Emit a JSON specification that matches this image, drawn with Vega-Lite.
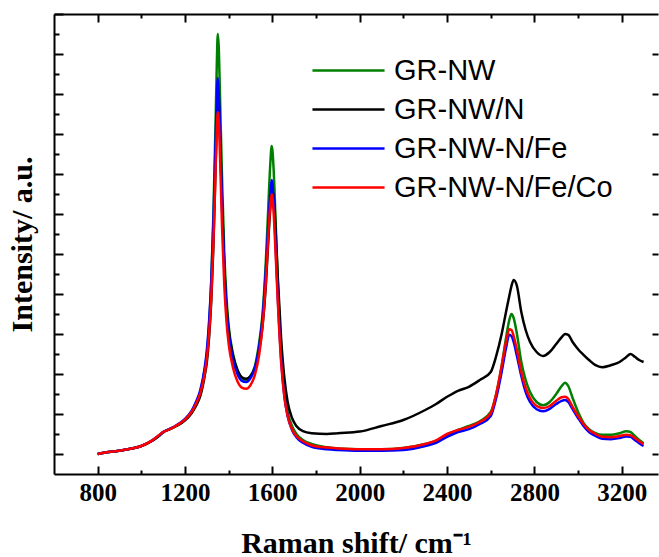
{
  "$schema": "https://vega.github.io/schema/vega-lite/v6.json",
  "width": 604,
  "height": 460,
  "autosize": {"type": "none"},
  "padding": {"left": 54, "top": 14, "right": 1, "bottom": 83},
  "background": "white",
  "config": {
    "view": {"stroke": null},
    "axis": {"grid": false, "domainColor": "black", "tickColor": "black", "domainWidth": 2, "tickWidth": 2, "labelColor": "black", "titleColor": "black"}
  },
  "data": {"values": [
    {"x":800,"GR-NW":0,"GR-NW/N":0,"GR-NW-N/Fe":0,"GR-NW-N/Fe/Co":0},
    {"x":850,"GR-NW":0.05,"GR-NW/N":0.05,"GR-NW-N/Fe":0.05,"GR-NW-N/Fe/Co":0.05},
    {"x":900,"GR-NW":0.08,"GR-NW/N":0.08,"GR-NW-N/Fe":0.08,"GR-NW-N/Fe/Co":0.08},
    {"x":950,"GR-NW":0.13,"GR-NW/N":0.13,"GR-NW-N/Fe":0.13,"GR-NW-N/Fe/Co":0.13},
    {"x":1000,"GR-NW":0.2,"GR-NW/N":0.2,"GR-NW-N/Fe":0.2,"GR-NW-N/Fe/Co":0.2},
    {"x":1050,"GR-NW":0.33,"GR-NW/N":0.33,"GR-NW-N/Fe":0.34,"GR-NW-N/Fe/Co":0.34},
    {"x":1080,"GR-NW":0.45,"GR-NW/N":0.45,"GR-NW-N/Fe":0.46,"GR-NW-N/Fe/Co":0.47},
    {"x":1100,"GR-NW":0.55,"GR-NW/N":0.54,"GR-NW-N/Fe":0.55,"GR-NW-N/Fe/Co":0.55},
    {"x":1130,"GR-NW":0.62,"GR-NW/N":0.62,"GR-NW-N/Fe":0.63,"GR-NW-N/Fe/Co":0.62},
    {"x":1160,"GR-NW":0.7,"GR-NW/N":0.7,"GR-NW-N/Fe":0.72,"GR-NW-N/Fe/Co":0.71},
    {"x":1200,"GR-NW":0.85,"GR-NW/N":0.84,"GR-NW-N/Fe":0.88,"GR-NW-N/Fe/Co":0.86},
    {"x":1230,"GR-NW":1.05,"GR-NW/N":1.02,"GR-NW-N/Fe":1.08,"GR-NW-N/Fe/Co":1.05},
    {"x":1250,"GR-NW":1.25,"GR-NW/N":1.2,"GR-NW-N/Fe":1.3,"GR-NW-N/Fe/Co":1.25},
    {"x":1270,"GR-NW":1.55,"GR-NW/N":1.45,"GR-NW-N/Fe":1.6,"GR-NW-N/Fe/Co":1.52},
    {"x":1290,"GR-NW":2.1,"GR-NW/N":1.95,"GR-NW-N/Fe":2.15,"GR-NW-N/Fe/Co":2.0},
    {"x":1300,"GR-NW":2.5,"GR-NW/N":2.3,"GR-NW-N/Fe":2.6,"GR-NW-N/Fe/Co":2.4},
    {"x":1310,"GR-NW":3.2,"GR-NW/N":2.9,"GR-NW-N/Fe":3.3,"GR-NW-N/Fe/Co":3.0},
    {"x":1320,"GR-NW":4.3,"GR-NW/N":3.8,"GR-NW-N/Fe":4.3,"GR-NW-N/Fe/Co":3.9},
    {"x":1330,"GR-NW":6.0,"GR-NW/N":5.2,"GR-NW-N/Fe":5.8,"GR-NW-N/Fe/Co":5.3},
    {"x":1340,"GR-NW":8.3,"GR-NW/N":7.2,"GR-NW-N/Fe":7.8,"GR-NW-N/Fe/Co":7.1},
    {"x":1345,"GR-NW":9.6,"GR-NW/N":8.2,"GR-NW-N/Fe":8.8,"GR-NW-N/Fe/Co":8.0},
    {"x":1350,"GR-NW":10.5,"GR-NW/N":8.9,"GR-NW-N/Fe":9.4,"GR-NW-N/Fe/Co":8.55},
    {"x":1355,"GR-NW":10.1,"GR-NW/N":8.8,"GR-NW-N/Fe":9.0,"GR-NW-N/Fe/Co":8.3},
    {"x":1360,"GR-NW":9.0,"GR-NW/N":8.0,"GR-NW-N/Fe":8.1,"GR-NW-N/Fe/Co":7.5},
    {"x":1370,"GR-NW":6.8,"GR-NW/N":6.2,"GR-NW-N/Fe":6.1,"GR-NW-N/Fe/Co":5.6},
    {"x":1380,"GR-NW":5.0,"GR-NW/N":4.7,"GR-NW-N/Fe":4.6,"GR-NW-N/Fe/Co":4.2},
    {"x":1390,"GR-NW":3.9,"GR-NW/N":3.7,"GR-NW-N/Fe":3.6,"GR-NW-N/Fe/Co":3.3},
    {"x":1400,"GR-NW":3.2,"GR-NW/N":3.1,"GR-NW-N/Fe":3.0,"GR-NW-N/Fe/Co":2.75},
    {"x":1420,"GR-NW":2.5,"GR-NW/N":2.45,"GR-NW-N/Fe":2.35,"GR-NW-N/Fe/Co":2.15},
    {"x":1440,"GR-NW":2.1,"GR-NW/N":2.1,"GR-NW-N/Fe":2.0,"GR-NW-N/Fe/Co":1.82},
    {"x":1460,"GR-NW":1.9,"GR-NW/N":1.92,"GR-NW-N/Fe":1.83,"GR-NW-N/Fe/Co":1.66},
    {"x":1480,"GR-NW":1.85,"GR-NW/N":1.88,"GR-NW-N/Fe":1.8,"GR-NW-N/Fe/Co":1.63},
    {"x":1500,"GR-NW":1.95,"GR-NW/N":1.95,"GR-NW-N/Fe":1.9,"GR-NW-N/Fe/Co":1.72},
    {"x":1520,"GR-NW":2.2,"GR-NW/N":2.15,"GR-NW-N/Fe":2.15,"GR-NW-N/Fe/Co":1.98},
    {"x":1540,"GR-NW":2.8,"GR-NW/N":2.6,"GR-NW-N/Fe":2.7,"GR-NW-N/Fe/Co":2.5},
    {"x":1555,"GR-NW":3.5,"GR-NW/N":3.2,"GR-NW-N/Fe":3.4,"GR-NW-N/Fe/Co":3.2},
    {"x":1570,"GR-NW":4.8,"GR-NW/N":4.2,"GR-NW-N/Fe":4.6,"GR-NW-N/Fe/Co":4.3},
    {"x":1580,"GR-NW":6.0,"GR-NW/N":5.2,"GR-NW-N/Fe":5.6,"GR-NW-N/Fe/Co":5.3},
    {"x":1590,"GR-NW":7.2,"GR-NW/N":6.1,"GR-NW-N/Fe":6.5,"GR-NW-N/Fe/Co":6.2},
    {"x":1597,"GR-NW":7.7,"GR-NW/N":6.55,"GR-NW-N/Fe":6.85,"GR-NW-N/Fe/Co":6.5},
    {"x":1605,"GR-NW":7.2,"GR-NW/N":6.5,"GR-NW-N/Fe":6.4,"GR-NW-N/Fe/Co":6.1},
    {"x":1615,"GR-NW":5.8,"GR-NW/N":5.6,"GR-NW-N/Fe":5.2,"GR-NW-N/Fe/Co":5.0},
    {"x":1625,"GR-NW":4.3,"GR-NW/N":4.4,"GR-NW-N/Fe":3.9,"GR-NW-N/Fe/Co":3.8},
    {"x":1640,"GR-NW":2.6,"GR-NW/N":2.9,"GR-NW-N/Fe":2.4,"GR-NW-N/Fe/Co":2.3},
    {"x":1655,"GR-NW":1.6,"GR-NW/N":1.9,"GR-NW-N/Fe":1.45,"GR-NW-N/Fe/Co":1.42},
    {"x":1670,"GR-NW":1.05,"GR-NW/N":1.3,"GR-NW-N/Fe":0.95,"GR-NW-N/Fe/Co":0.95},
    {"x":1690,"GR-NW":0.7,"GR-NW/N":0.9,"GR-NW-N/Fe":0.6,"GR-NW-N/Fe/Co":0.62},
    {"x":1710,"GR-NW":0.5,"GR-NW/N":0.7,"GR-NW-N/Fe":0.42,"GR-NW-N/Fe/Co":0.45},
    {"x":1740,"GR-NW":0.35,"GR-NW/N":0.57,"GR-NW-N/Fe":0.28,"GR-NW-N/Fe/Co":0.32},
    {"x":1780,"GR-NW":0.25,"GR-NW/N":0.52,"GR-NW-N/Fe":0.18,"GR-NW-N/Fe/Co":0.22},
    {"x":1850,"GR-NW":0.17,"GR-NW/N":0.5,"GR-NW-N/Fe":0.12,"GR-NW-N/Fe/Co":0.16},
    {"x":1900,"GR-NW":0.14,"GR-NW/N":0.52,"GR-NW-N/Fe":0.1,"GR-NW-N/Fe/Co":0.14},
    {"x":2000,"GR-NW":0.12,"GR-NW/N":0.56,"GR-NW-N/Fe":0.08,"GR-NW-N/Fe/Co":0.12},
    {"x":2100,"GR-NW":0.12,"GR-NW/N":0.7,"GR-NW-N/Fe":0.08,"GR-NW-N/Fe/Co":0.12},
    {"x":2200,"GR-NW":0.15,"GR-NW/N":0.85,"GR-NW-N/Fe":0.1,"GR-NW-N/Fe/Co":0.15},
    {"x":2300,"GR-NW":0.25,"GR-NW/N":1.1,"GR-NW-N/Fe":0.2,"GR-NW-N/Fe/Co":0.25},
    {"x":2350,"GR-NW":0.33,"GR-NW/N":1.25,"GR-NW-N/Fe":0.28,"GR-NW-N/Fe/Co":0.34},
    {"x":2400,"GR-NW":0.48,"GR-NW/N":1.43,"GR-NW-N/Fe":0.43,"GR-NW-N/Fe/Co":0.5},
    {"x":2450,"GR-NW":0.6,"GR-NW/N":1.58,"GR-NW-N/Fe":0.55,"GR-NW-N/Fe/Co":0.6},
    {"x":2500,"GR-NW":0.7,"GR-NW/N":1.68,"GR-NW-N/Fe":0.62,"GR-NW-N/Fe/Co":0.68},
    {"x":2550,"GR-NW":0.82,"GR-NW/N":1.85,"GR-NW-N/Fe":0.75,"GR-NW-N/Fe/Co":0.8},
    {"x":2600,"GR-NW":1.05,"GR-NW/N":2.05,"GR-NW-N/Fe":0.95,"GR-NW-N/Fe/Co":1.02},
    {"x":2625,"GR-NW":1.5,"GR-NW/N":2.45,"GR-NW-N/Fe":1.4,"GR-NW-N/Fe/Co":1.5},
    {"x":2650,"GR-NW":2.2,"GR-NW/N":3.0,"GR-NW-N/Fe":2.05,"GR-NW-N/Fe/Co":2.2},
    {"x":2670,"GR-NW":2.9,"GR-NW/N":3.55,"GR-NW-N/Fe":2.65,"GR-NW-N/Fe/Co":2.8},
    {"x":2685,"GR-NW":3.35,"GR-NW/N":3.95,"GR-NW-N/Fe":2.98,"GR-NW-N/Fe/Co":3.12},
    {"x":2695,"GR-NW":3.5,"GR-NW/N":4.2,"GR-NW-N/Fe":2.95,"GR-NW-N/Fe/Co":3.1},
    {"x":2705,"GR-NW":3.4,"GR-NW/N":4.35,"GR-NW-N/Fe":2.8,"GR-NW-N/Fe/Co":2.95},
    {"x":2720,"GR-NW":3.0,"GR-NW/N":4.2,"GR-NW-N/Fe":2.45,"GR-NW-N/Fe/Co":2.6},
    {"x":2740,"GR-NW":2.3,"GR-NW/N":3.55,"GR-NW-N/Fe":1.95,"GR-NW-N/Fe/Co":2.05},
    {"x":2760,"GR-NW":1.85,"GR-NW/N":3.1,"GR-NW-N/Fe":1.55,"GR-NW-N/Fe/Co":1.65},
    {"x":2780,"GR-NW":1.55,"GR-NW/N":2.8,"GR-NW-N/Fe":1.3,"GR-NW-N/Fe/Co":1.4},
    {"x":2810,"GR-NW":1.3,"GR-NW/N":2.55,"GR-NW-N/Fe":1.12,"GR-NW-N/Fe/Co":1.2},
    {"x":2840,"GR-NW":1.22,"GR-NW/N":2.45,"GR-NW-N/Fe":1.07,"GR-NW-N/Fe/Co":1.15},
    {"x":2870,"GR-NW":1.3,"GR-NW/N":2.55,"GR-NW-N/Fe":1.13,"GR-NW-N/Fe/Co":1.2},
    {"x":2900,"GR-NW":1.5,"GR-NW/N":2.75,"GR-NW-N/Fe":1.25,"GR-NW-N/Fe/Co":1.33},
    {"x":2925,"GR-NW":1.7,"GR-NW/N":2.92,"GR-NW-N/Fe":1.33,"GR-NW-N/Fe/Co":1.42},
    {"x":2940,"GR-NW":1.78,"GR-NW/N":3.0,"GR-NW-N/Fe":1.35,"GR-NW-N/Fe/Co":1.43},
    {"x":2955,"GR-NW":1.7,"GR-NW/N":2.98,"GR-NW-N/Fe":1.3,"GR-NW-N/Fe/Co":1.38},
    {"x":2975,"GR-NW":1.4,"GR-NW/N":2.8,"GR-NW-N/Fe":1.12,"GR-NW-N/Fe/Co":1.18},
    {"x":3000,"GR-NW":1.05,"GR-NW/N":2.62,"GR-NW-N/Fe":0.9,"GR-NW-N/Fe/Co":0.95},
    {"x":3025,"GR-NW":0.78,"GR-NW/N":2.48,"GR-NW-N/Fe":0.7,"GR-NW-N/Fe/Co":0.75},
    {"x":3050,"GR-NW":0.62,"GR-NW/N":2.35,"GR-NW-N/Fe":0.55,"GR-NW-N/Fe/Co":0.6},
    {"x":3080,"GR-NW":0.52,"GR-NW/N":2.22,"GR-NW-N/Fe":0.45,"GR-NW-N/Fe/Co":0.5},
    {"x":3110,"GR-NW":0.48,"GR-NW/N":2.17,"GR-NW-N/Fe":0.38,"GR-NW-N/Fe/Co":0.43},
    {"x":3150,"GR-NW":0.48,"GR-NW/N":2.22,"GR-NW-N/Fe":0.37,"GR-NW-N/Fe/Co":0.42},
    {"x":3190,"GR-NW":0.52,"GR-NW/N":2.3,"GR-NW-N/Fe":0.4,"GR-NW-N/Fe/Co":0.45},
    {"x":3220,"GR-NW":0.57,"GR-NW/N":2.42,"GR-NW-N/Fe":0.44,"GR-NW-N/Fe/Co":0.48},
    {"x":3240,"GR-NW":0.55,"GR-NW/N":2.5,"GR-NW-N/Fe":0.43,"GR-NW-N/Fe/Co":0.47},
    {"x":3260,"GR-NW":0.45,"GR-NW/N":2.43,"GR-NW-N/Fe":0.35,"GR-NW-N/Fe/Co":0.4},
    {"x":3280,"GR-NW":0.35,"GR-NW/N":2.35,"GR-NW-N/Fe":0.27,"GR-NW-N/Fe/Co":0.32},
    {"x":3300,"GR-NW":0.27,"GR-NW/N":2.3,"GR-NW-N/Fe":0.2,"GR-NW-N/Fe/Co":0.25}
  ]},
  "transform": [{"fold": ["GR-NW", "GR-NW/N", "GR-NW-N/Fe", "GR-NW-N/Fe/Co"], "as": ["series", "y"]}],
  "resolve": {"axis": {"x": "independent", "y": "independent"}},
  "layer": [
    {
      "mark": {"type": "line", "strokeWidth": 2.5, "interpolate": "monotone"},
      "encoding": {
        "x": {"field": "x", "type": "quantitative",
          "scale": {"domain": [600, 3366], "nice": false, "zero": false},
          "axis": {"orient": "bottom", "values": [800, 1200, 1600, 2000, 2400, 2800, 3200], "format": "d", "tickSize": -8,
            "labelFont": "Liberation Serif", "labelFontWeight": "bold", "labelFontSize": 25, "labelPadding": 14, "labelFlush": false,
            "title": "Raman shift/ cm⁻¹", "titleFont": "Liberation Serif", "titleFontWeight": "bold", "titleFontSize": 30, "titlePadding": 23}},
        "y": {"field": "y", "type": "quantitative",
          "scale": {"domain": [-0.5, 11], "nice": false, "zero": false},
          "axis": {"orient": "left", "values": [0, 1, 2, 3, 4, 5, 6, 7, 8, 9, 10, 11], "tickSize": -9, "labels": false,
            "title": "Intensity/ a.u.", "titleFont": "Liberation Serif", "titleFontWeight": "bold", "titleFontSize": 30, "titlePadding": 16}},
        "color": {"field": "series", "type": "nominal",
          "scale": {"domain": ["GR-NW", "GR-NW/N", "GR-NW-N/Fe", "GR-NW-N/Fe/Co"], "range": ["#008000", "#000000", "#0000ff", "#ff0000"]},
          "legend": {"orient": "none", "legendX": 280, "legendY": 42, "title": null, "padding": 0,
            "symbolType": "M-10.3,0H10.3", "symbolSize": 49, "symbolStrokeWidth": 2.5,
            "labelFont": "Liberation Sans", "labelFontSize": 29, "labelColor": "black", "labelLimit": 400,
            "labelOffset": 31, "rowPadding": 9}}
      }
    },
    {
      "mark": {"type": "point", "opacity": 0, "size": 1},
      "encoding": {
        "x": {"field": "x", "type": "quantitative",
          "scale": {"domain": [600, 3366], "nice": false, "zero": false},
          "axis": {"orient": "bottom", "values": [1000, 1400, 1800, 2200, 2600, 3000], "tickSize": -4, "labels": false, "domain": false, "title": null}},
        "y": {"field": "y", "type": "quantitative",
          "scale": {"domain": [-0.5, 11], "nice": false, "zero": false},
          "axis": {"orient": "left", "values": [0.5, 1.5, 2.5, 3.5, 4.5, 5.5, 6.5, 7.5, 8.5, 9.5, 10.5], "tickSize": -5, "labels": false, "domain": false, "title": null}}
      }
    },
    {
      "mark": {"type": "point", "opacity": 0, "size": 1},
      "encoding": {
        "x": {"field": "x", "type": "quantitative",
          "scale": {"domain": [600, 3366], "nice": false, "zero": false},
          "axis": {"orient": "top", "values": [800, 1200, 1600, 2000, 2400, 2800, 3200], "tickSize": -8, "labels": false, "domain": true, "title": null}},
        "y": {"field": "y", "type": "quantitative",
          "scale": {"domain": [-0.5, 11], "nice": false, "zero": false},
          "axis": {"orient": "right", "values": [0, 1, 2, 3, 4, 5, 6, 7, 8, 9, 10], "tickSize": -6, "labels": false, "domain": false, "title": null}}
      }
    },
    {
      "mark": {"type": "point", "opacity": 0, "size": 1},
      "encoding": {
        "x": {"field": "x", "type": "quantitative",
          "scale": {"domain": [600, 3366], "nice": false, "zero": false},
          "axis": {"orient": "top", "values": [1000, 1400, 1800, 2200, 2600, 3000], "tickSize": -4, "labels": false, "domain": false, "title": null}},
        "y": {"field": "y", "type": "quantitative",
          "scale": {"domain": [-0.5, 11], "nice": false, "zero": false},
          "axis": null}
      }
    }
  ]
}
